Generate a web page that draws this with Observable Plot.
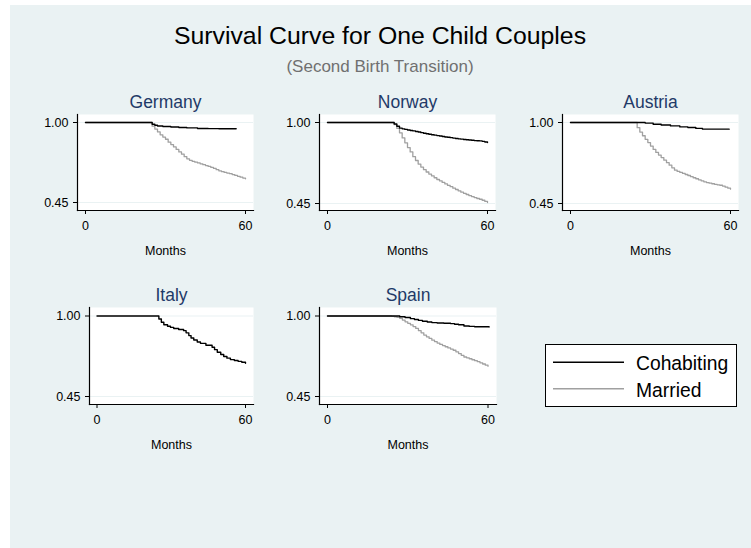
<!DOCTYPE html>
<html><head><meta charset="utf-8">
<script src="https://cdn.jsdelivr.net/npm/d3@7"></script>
<script src="https://cdn.jsdelivr.net/npm/@observablehq/plot@0.6"></script>
<style>
html,body{margin:0;padding:0;background:#fff;}
body{width:751px;height:548px;position:relative;overflow:hidden;font-family:"Liberation Sans",Arial,sans-serif;}
#bg{position:absolute;left:10px;top:5px;width:741px;height:543px;background:#eaf2f3;}
.panel{position:absolute;}
#overlay{position:absolute;left:0;top:0;}
</style></head><body>
<div id="bg"></div>
<div id="panels"></div>
<svg id="overlay" width="751" height="548"></svg>
<script>
// ---- Data ----
const title = "Survival Curve for One Child Couples";
const subtitle = "(Second Birth Transition)";
const groups = ["Cohabiting", "Married"];
const xLabel = "Months";
const xTicks = [0, 60];
const yTicks = [0.45, 1.00];

const germanyCohabiting = [[0,1],[24,1],[25,0.988],[26,0.981],[27,0.976],[29,0.972],[32,0.969],[35,0.966],[38,0.963],[42,0.959],[46,0.958],[50,0.957],[56.5,0.957]];
const germanyMarried = [[0,1],[24,1],[25,0.975],[26,0.955],[27,0.935],[28,0.915],[29,0.9],[30,0.885],[31,0.865],[32,0.848],[33,0.832],[34,0.815],[35,0.798],[36,0.782],[37,0.765],[38,0.75],[39,0.74],[40,0.733],[41,0.727],[42,0.722],[43,0.716],[44,0.71],[45,0.704],[46,0.698],[47,0.691],[48,0.684],[49,0.676],[50,0.668],[51,0.662],[52,0.657],[53,0.652],[54,0.648],[55,0.642],[56,0.636],[57,0.63],[58,0.624],[59,0.618],[60,0.613]];

const norwayCohabiting = [[0,1],[24,1],[25,0.99],[26,0.975],[27,0.962],[28,0.957],[29,0.953],[30,0.949],[31,0.946],[32,0.943],[33,0.939],[34,0.935],[35,0.931],[36,0.927],[37,0.924],[38,0.92],[39,0.917],[40,0.914],[41,0.911],[42,0.908],[43,0.905],[44,0.902],[45,0.9],[46,0.897],[47,0.894],[48,0.891],[49,0.889],[50,0.887],[51,0.885],[52,0.883],[53,0.881],[54,0.879],[55,0.877],[56,0.876],[57,0.875],[58,0.872],[59,0.868],[60,0.864]];
const norwayMarried = [[0,1],[24,1],[25,0.985],[26,0.96],[27,0.93],[28,0.895],[29,0.862],[30,0.83],[31,0.8],[32,0.768],[33,0.742],[34,0.718],[35,0.697],[36,0.68],[37,0.664],[38,0.65],[39,0.637],[40,0.625],[41,0.613],[42,0.603],[43,0.593],[44,0.583],[45,0.573],[46,0.564],[47,0.554],[48,0.545],[49,0.536],[50,0.527],[51,0.519],[52,0.511],[53,0.504],[54,0.497],[55,0.49],[56,0.484],[57,0.479],[58,0.472],[59,0.464],[60,0.456]];

const austriaCohabiting = [[0,1],[24,1],[28,0.996],[31,0.988],[34,0.983],[37.5,0.977],[41,0.97],[44,0.966],[47,0.96],[49.5,0.955],[59.5,0.955]];
const austriaMarried = [[0,1],[24,1],[25,0.965],[26,0.935],[27,0.91],[28,0.886],[29,0.864],[30,0.84],[31,0.817],[32,0.797],[33,0.779],[34,0.762],[35,0.744],[36,0.727],[37,0.71],[38,0.692],[39,0.676],[40,0.668],[41,0.661],[42,0.654],[43,0.647],[44,0.64],[45,0.632],[46,0.625],[47,0.618],[48,0.611],[49,0.604],[50,0.597],[51,0.592],[52,0.588],[53,0.584],[54,0.58],[55,0.577],[56,0.574],[57,0.568],[58,0.561],[59,0.554],[60,0.547]];

const italyCohabiting = [[0,1],[24.3,1],[25,0.98],[26,0.957],[27,0.94],[28.5,0.93],[29.7,0.922],[31,0.915],[33,0.908],[35,0.9],[36,0.885],[37.1,0.866],[38,0.85],[39.1,0.836],[40.5,0.822],[41.8,0.813],[44,0.8],[46.5,0.786],[47.5,0.77],[48.6,0.752],[50,0.737],[51.2,0.723],[52.5,0.712],[53.9,0.702],[55.5,0.696],[57,0.69],[58.5,0.684],[60,0.677]];

const spainCohabiting = [[0,1],[23.5,1],[27,0.995],[29,0.99],[31,0.982],[32.5,0.976],[34,0.97],[35.5,0.964],[37.3,0.959],[39,0.955],[41,0.952],[43.5,0.95],[46,0.948],[47.5,0.944],[49,0.94],[51,0.932],[53,0.929],[55,0.927],[60.4,0.925]];
const spainMarried = [[0,1],[24,0.998],[25,0.995],[26,0.99],[27,0.984],[28,0.972],[29,0.96],[30,0.95],[31,0.94],[32,0.928],[33,0.915],[34,0.9],[35,0.885],[36,0.87],[37,0.858],[38,0.847],[39,0.835],[40,0.825],[41,0.815],[42,0.806],[43,0.798],[44,0.79],[45,0.782],[46,0.774],[47,0.766],[48,0.755],[49,0.743],[50,0.731],[51,0.72],[52,0.714],[53,0.708],[54,0.701],[55,0.695],[56,0.688],[57,0.68],[58,0.672],[59,0.664],[60,0.656]];

const countries = ["Germany", "Norway", "Austria", "Italy", "Spain"];
const seriesByCountry = {
  Germany: {Cohabiting: germanyCohabiting, Married: germanyMarried},
  Norway: {Cohabiting: norwayCohabiting, Married: norwayMarried},
  Austria: {Cohabiting: austriaCohabiting, Married: austriaMarried},
  Italy: {Cohabiting: italyCohabiting},
  Spain: {Cohabiting: spainCohabiting, Married: spainMarried}
};

// ---- Layout (page pixel boxes of each panel's plot area) ----
const layout = {
  Germany: {x0: 77, x1: 253, y0: 114, y1: 210, il: 8, ir: 8, it: 8, ib: 8},
  Norway:  {x0: 319, x1: 495, y0: 114, y1: 210, il: 8, ir: 8, it: 8, ib: 7},
  Austria: {x0: 562, x1: 738, y0: 114, y1: 210, il: 8, ir: 8, it: 8, ib: 7},
  Italy:   {x0: 89, x1: 253, y0: 307, y1: 404, il: 7.5, ir: 8, it: 8.5, ib: 8},
  Spain:   {x0: 319, x1: 496, y0: 307, y1: 404, il: 8, ir: 8.5, it: 8.5, ib: 8}
};
const colors = ["#000000", "#a0a0a0"];
const bgColor = "#eaf2f3";
const titleColor = "#1f3a68";
const font = "'Liberation Sans', Arial, sans-serif";

const ML = 55, MT = 32, MR = 12, MB = 56;
const container = document.getElementById("panels");

for (const name of countries) {
  const L = layout[name];
  const rows = [];
  for (const g of groups) {
    const s = seriesByCountry[name][g];
    if (!s) continue;
    for (const [m, v] of s) rows.push({country: name, group: g, month: m, surv: v});
  }
  const w = (L.x1 - L.x0) + ML + MR;
  const h = (L.y1 - L.y0) + MT + MB;
  const chart = Plot.plot({
    width: w,
    height: h,
    marginLeft: ML, marginTop: MT, marginRight: MR, marginBottom: MB,
    style: {background: "transparent", fontFamily: font, fontSize: "12.5px", color: "#000", overflow: "visible"},
    x: {domain: [0, 60], insetLeft: L.il, insetRight: L.ir},
    y: {domain: [0.45, 1], insetTop: L.it, insetBottom: L.ib},
    color: {domain: groups, range: colors},
    marks: [
      Plot.frame({fill: "white", stroke: null}),
      Plot.gridY(yTicks, {stroke: bgColor, strokeOpacity: 1, strokeWidth: 1.2}),
      Plot.line(rows.filter(d => d.group === "Married"), {x: "month", y: "surv", stroke: "group", curve: "step-after", strokeWidth: 1.3}),
      Plot.line(rows.filter(d => d.group === "Cohabiting"), {x: "month", y: "surv", stroke: "group", curve: "step-after", strokeWidth: 1.4}),
      Plot.axisX(xTicks, {tickSize: 4, tickPadding: 7, label: null, tickFormat: d => String(d), fontSize: 12.5}),
      Plot.axisY(yTicks, {tickSize: 4, tickPadding: 5, label: null, tickFormat: d3.format(".2f"), fontSize: 12.5}),
      Plot.frame({anchor: "left", stroke: "#000", strokeWidth: 1.2}),
      Plot.frame({anchor: "bottom", stroke: "#000", strokeWidth: 1.2}),
      Plot.text([name], {frameAnchor: "top", lineAnchor: "middle", dy: -12, fontSize: 17.5, fill: titleColor}),
      Plot.text([xLabel], {frameAnchor: "bottom", lineAnchor: "middle", dy: 40, fontSize: 12.5, fill: "#000"})
    ]
  });
  const div = document.createElement("div");
  div.className = "panel";
  div.style.left = (L.x0 - ML) + "px";
  div.style.top = (L.y0 - MT) + "px";
  div.appendChild(chart);
  container.appendChild(div);
}

// ---- Titles and legend ----
const svg = d3.select("#overlay");
svg.append("text").attr("x", 380).attr("y", 43.5).attr("text-anchor", "middle")
  .attr("font-family", font).attr("font-size", 24.8).attr("fill", "#000").text(title);
svg.append("text").attr("x", 380).attr("y", 71.5).attr("text-anchor", "middle")
  .attr("font-family", font).attr("font-size", 17).attr("fill", "#707070").text(subtitle);

const lg = svg.append("g");
lg.append("rect").attr("x", 545.5).attr("y", 344.5).attr("width", 191).attr("height", 62)
  .attr("fill", "white").attr("stroke", "#000").attr("stroke-width", 1);
groups.forEach((g, i) => {
  const y = 362.3 + i * 26.5;
  lg.append("line").attr("x1", 553).attr("x2", 624).attr("y1", y).attr("y2", y)
    .attr("stroke", colors[i]).attr("stroke-width", 1.4);
  lg.append("text").attr("x", 636).attr("y", y + 7.8).attr("font-family", font)
    .attr("font-size", 19.3).attr("fill", "#000").text(g);
});
</script>
</body></html>
